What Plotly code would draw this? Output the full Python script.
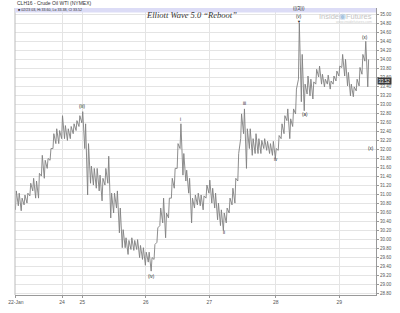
import plotly.graph_objects as go

# ---- data (hourly-ish bars) ----
bar_high = [31.08, 31.03, 30.92, 30.99, 31.03, 31.25, 31.36, 31.30, 31.47, 31.87,
            31.76, 31.80, 32.02, 32.35, 32.46, 32.42, 32.75, 32.53, 32.46, 32.51,
            32.57, 32.64, 32.75, 32.84, 32.57, 32.13, 31.63, 31.58, 31.58, 31.43,
            31.36, 31.58, 31.85, 31.03, 31.03, 31.08, 30.70, 30.22, 30.04, 29.98,
            30.04, 29.98, 30.00, 29.87, 29.82, 29.72, 29.72, 29.60, 29.89, 30.26,
            30.70, 30.92, 30.59, 30.92, 31.36, 31.58, 32.13, 32.57, 31.91, 31.54,
            31.36, 30.92, 30.99, 31.03, 30.99, 30.97, 31.21, 31.32, 31.14, 31.03,
            30.81, 30.66, 30.59, 30.70, 30.92, 31.14, 31.36, 31.91, 32.79, 32.90,
            32.46, 32.46, 32.24, 32.35, 32.24, 32.20, 32.24, 32.18, 32.13, 32.18,
            32.02, 32.31, 32.57, 32.75, 32.90, 32.68, 32.90, 33.34, 34.81, 34.11,
            33.45, 33.63, 33.56, 33.50, 33.78, 33.85, 33.67, 33.56, 33.65, 33.52,
            33.63, 33.74, 33.85, 34.11, 34.00, 33.71, 33.45, 33.39, 33.56, 33.82,
            34.11, 34.40, 34.00]
bar_low = [30.66, 30.75, 30.64, 30.77, 30.81, 30.97, 31.08, 30.92, 30.92, 31.41,
           31.36, 31.58, 31.76, 32.02, 32.13, 32.13, 32.24, 32.24, 32.20, 32.24,
           32.35, 32.42, 32.51, 32.59, 32.02, 30.99, 31.25, 31.21, 31.14, 31.08,
           30.86, 31.21, 31.25, 30.48, 30.59, 30.70, 30.15, 29.82, 29.82, 29.67,
           29.78, 29.76, 29.78, 29.60, 29.56, 29.43, 29.50, 29.30, 29.56, 29.94,
           30.31, 30.37, 30.04, 30.48, 30.92, 31.14, 31.58, 32.02, 31.43, 31.30,
           31.03, 30.37, 30.70, 30.77, 30.75, 30.66, 30.92, 31.03, 30.81, 30.70,
           30.44, 30.31, 30.20, 30.37, 30.59, 30.77, 30.81, 31.30, 32.24, 32.35,
           31.58, 32.02, 31.87, 31.91, 31.91, 31.91, 32.02, 31.98, 31.91, 31.87,
           31.80, 31.98, 32.24, 32.35, 32.64, 32.24, 32.51, 32.79, 33.56, 33.06,
           32.86, 33.23, 33.19, 33.12, 33.45, 33.61, 33.45, 33.39, 33.45, 33.34,
           33.45, 33.52, 33.63, 33.82, 33.63, 33.41, 33.19, 33.17, 33.30, 33.41,
           33.67, 33.96, 33.39]

day_tick_bars = [0, 16, 23, 45, 67, 90, 112]
day_tick_labels = ["22-Jan", "24", "25", "26", "27", "28", "29"]

price_ticks = [round(28.8 + 0.2 * k, 2) for k in range(32)]
last_price = 33.52

wave_labels = ["(iii)", "(iv)", "i", "ii", "iii", "iv", "(((3)))", "(v)", "▼", "(a)", "(x)", "(x)"]
wave_bars = [23, 47, 57, 72, 79, 90, 98, 98, 98, 100, 121, 123]
wave_prices = [32.95, 29.19, 32.66, 30.15, 33.01, 31.78, 35.12, 34.95, 34.84, 32.77, 34.49, 32.02]

# ---- build sawtooth path of bar ranges (low -> high per bar) ----
xs, ys = [], []
for i, (h, l) in enumerate(zip(bar_high, bar_low)):
    xs += [i - 0.15, i + 0.15]
    ys += [l, h]

fig = go.Figure()
fig.add_trace(go.Scatter(x=xs, y=ys, mode="lines",
                         line=dict(color="#808080", width=0.9),
                         hoverinfo="skip", showlegend=False))

font_family = "Liberation Sans, Arial, sans-serif"

fig.update_layout(
    width=400, height=313,
    margin=dict(l=13, r=12, t=8, b=15),
    paper_bgcolor="white", plot_bgcolor="white",
    showlegend=False,
    font=dict(family=font_family, size=5, color="#555"),
    xaxis=dict(range=[-0.3, 124.7], tickmode="array",
               tickvals=day_tick_bars, ticktext=day_tick_labels,
               showgrid=True, gridcolor="#e4e4e4", gridwidth=1,
               showline=True, linecolor="#999", linewidth=1, mirror=False,
               ticks="outside", ticklen=2, tickcolor="#999",
               tickfont=dict(size=5, color="#555"), zeroline=False, fixedrange=True),
    yaxis=dict(range=[28.77, 35.14], side="right", tickmode="array",
               tickvals=price_ticks, ticktext=[f"{v:.2f}" for v in price_ticks],
               showgrid=True, gridcolor="#e4e4e4", gridwidth=1,
               showline=True, linecolor="#999", linewidth=1,
               ticks="outside", ticklen=2, tickcolor="#999",
               tickfont=dict(size=4.5, color="#555"), zeroline=False, fixedrange=True),
)

# left axis line
fig.add_shape(type="line", xref="paper", yref="paper", x0=0, x1=0, y0=0, y1=1,
              line=dict(color="#bbb", width=1))
# header band
fig.add_shape(type="rect", xref="paper", yref="paper", x0=0, x1=1,
              y0=1 - 4.5 / 290, y1=1, fillcolor="#dcdcf6", line=dict(width=0), layer="above")

annotations = []
annotations.append(dict(xref="paper", yref="paper", x=0, y=1 + 5 / 290, xanchor="left", yanchor="middle",
                        text="CLH16 - Crude Oil WTI (NYMEX)", showarrow=False,
                        font=dict(size=5, color="#333", family=font_family)))
annotations.append(dict(xref="paper", yref="paper", x=0.004, y=1 - 2.3 / 290, xanchor="left", yanchor="middle",
                        text="■ 02/23 03, Hi 33.60, Lo 33.38, Cl 33.52", showarrow=False,
                        font=dict(size=3.6, color="#333", family=font_family)))
annotations.append(dict(xref="paper", yref="paper", x=0.488, y=1 - 7 / 290, xanchor="center", yanchor="middle",
                        text="<i>Elliott Wave 5.0 “Reboot”</i>", showarrow=False,
                        font=dict(size=8.5, color="#333", family="Liberation Serif, serif")))
annotations.append(dict(xref="paper", yref="paper", x=0.995, y=1 - 8.5 / 290, xanchor="right", yanchor="middle",
                        text="Inside<span style='color:#a8c4e0'>◉</span>Futures", showarrow=False,
                        font=dict(size=7.5, color="#c4c4c4", family=font_family)))
annotations.append(dict(xref="paper", yref="paper", x=0.995, y=1 - 14.5 / 290, xanchor="right", yanchor="middle",
                        text="www.insidefutures.com", showarrow=False,
                        font=dict(size=3.5, color="#cfcfcf", family=font_family)))
# last price box
annotations.append(dict(xref="paper", yref="y", x=1.0, y=last_price, xanchor="left", yanchor="middle",
                        text=f"{last_price:.2f}", showarrow=False, bgcolor="#3a3a3a", borderpad=0.5,
                        xshift=1, font=dict(size=4.5, color="white", family=font_family)))
for lab, bx, py in zip(wave_labels, wave_bars, wave_prices):
    annotations.append(dict(x=bx, y=py, text=lab, showarrow=False, xanchor="center", yanchor="middle",
                            font=dict(size=4.5 if lab != "▼" else 4, color="#222", family=font_family)))
fig.update_layout(annotations=annotations)

fig.write_html("out.html")
